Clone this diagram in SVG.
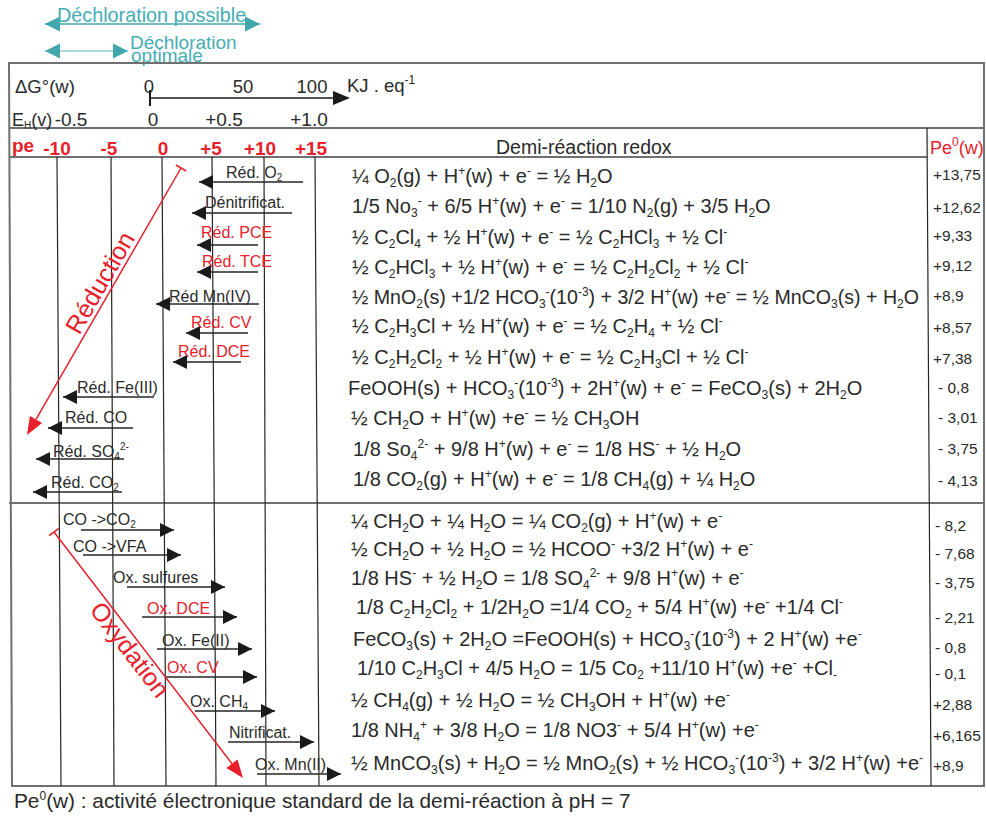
<svg xmlns="http://www.w3.org/2000/svg" width="986" height="816" viewBox="0 0 986 816">
<style>
.t{font-family:"Liberation Sans",Arial,sans-serif;fill:#2a2a2a}
.eq{font-size:20px}
.lb{font-size:16px}
.pv{font-size:15.5px}
.hd{font-size:18.5px}
.red{fill:#e8202a}
.s{font-size:12px}
.ls{font-size:10px}
.teal{fill:#45adb4}
.grid{stroke:#262626;stroke-width:1.2;fill:none}
.bord{stroke:#707070;stroke-width:2;fill:none}
.arr{stroke:#262626;stroke-width:1.3;fill:none;marker-end:url(#ah)}
.rl{stroke:#e8202a;stroke-width:1.5;fill:none}
</style>
<defs>
<marker id="ah" markerUnits="userSpaceOnUse" markerWidth="14" markerHeight="14" refX="14" refY="7" orient="auto"><path d="M0,0 L14,7 L0,14 z" fill="#1a1a1a"/></marker>
<marker id="tl" markerUnits="userSpaceOnUse" markerWidth="16" markerHeight="16" refX="15" refY="8" orient="auto-start-reverse"><path d="M0,0.5 L15,8 L0,15.5 z" fill="#42a7ad"/></marker>
</defs>
<rect width="986" height="816" fill="#ffffff"/>

<g id="dechloration">
<line x1="45" y1="24" x2="260" y2="24" stroke="#42a7ad" stroke-width="1.5" marker-start="url(#tl)" marker-end="url(#tl)"/>
<text class="t teal" x="57" y="22" font-size="19.8">Déchloration possible</text>
<line x1="45" y1="51" x2="128" y2="51" stroke="#8ccfd3" stroke-width="1.5" marker-start="url(#tl)" marker-end="url(#tl)"/>
<text class="t teal" x="130" y="49" font-size="19">Déchloration</text>
<text class="t teal" x="131" y="62" font-size="19">optimale</text>
</g>

<g id="frame">
<line class="bord" x1="9" y1="63" x2="985" y2="63"/>
<line class="bord" x1="9" y1="128" x2="985" y2="128"/>
<line class="bord" x1="9" y1="157" x2="927" y2="157"/>
<line class="bord" x1="9" y1="503" x2="985" y2="503"/>
<line class="bord" x1="11" y1="786" x2="985" y2="786"/>
<line class="bord" x1="9" y1="62" x2="12" y2="787"/>
<line class="bord" x1="984" y1="62" x2="984" y2="787"/>
<line class="grid" x1="927" y1="128" x2="931" y2="786" stroke-width="1.6"/>
</g>

<g id="pe-grid">
<line class="grid" x1="57" y1="157" x2="61" y2="786"/>
<line class="grid" x1="111" y1="157" x2="114" y2="786"/>
<line class="grid" x1="162" y1="157" x2="166" y2="786"/>
<line class="grid" x1="212" y1="157" x2="216" y2="786"/>
<line class="grid" x1="264" y1="157" x2="266" y2="786"/>
<line class="grid" x1="315" y1="157" x2="319" y2="786"/>
</g>

<g id="scales">
<text class="t hd" x="15" y="93">ΔG°(w)</text>
<text class="t hd" x="149" y="93" text-anchor="middle">0</text>
<text class="t hd" x="243" y="93" text-anchor="middle">50</text>
<text class="t hd" x="312" y="93" text-anchor="middle">100</text>
<text class="t hd" x="347" y="92">KJ . eq<tspan class="s" dy="-8">-1</tspan></text>
<line x1="150" y1="90" x2="150" y2="106" stroke="#1a1a1a" stroke-width="2"/>
<line x1="150" y1="98" x2="336" y2="98" stroke="#1a1a1a" stroke-width="1.3"/>
<path d="M333,91 L350,98 L333,105 z" fill="#1a1a1a"/>
<text class="t" x="12" y="126" font-size="18">E<tspan class="ls" dy="3">H</tspan><tspan dy="-3">(v)</tspan></text>
<text class="t" x="71" y="126" font-size="19" text-anchor="middle">-0.5</text>
<text class="t" x="153" y="126" font-size="19" text-anchor="middle">0</text>
<text class="t" x="224" y="126" font-size="19" text-anchor="middle">+0.5</text>
<text class="t" x="309" y="126" font-size="19" text-anchor="middle">+1.0</text>
<g class="t red" font-size="19" font-weight="bold">
<text x="12" y="152">pe</text>
<text x="57" y="155" text-anchor="middle">-10</text>
<text x="109" y="155" text-anchor="middle">-5</text>
<text x="163" y="155" text-anchor="middle">0</text>
<text x="211" y="155" text-anchor="middle">+5</text>
<text x="260" y="155" text-anchor="middle">+10</text>
<text x="311" y="155" text-anchor="middle">+15</text>
</g>
<text class="t" x="496" y="154" font-size="19.5">Demi-réaction redox</text>
<text class="t red" x="930" y="154" font-size="18">Pe<tspan class="s" dy="-8">0</tspan><tspan dy="8">(w)</tspan></text>
</g>

<g id="reduction-equations" class="t eq">
<text x="352" y="183">¼ O<tspan class="s" dy="4">2</tspan><tspan dy="-4">(g) + H</tspan><tspan class="s" dy="-8">+</tspan><tspan dy="8">(w)  + e</tspan><tspan class="s" dy="-8">-</tspan><tspan dy="8"> = ½ H</tspan><tspan class="s" dy="4">2</tspan><tspan dy="-4">O</tspan></text>
<text x="352" y="213">1/5 No<tspan class="s" dy="4">3</tspan><tspan class="s" dy="-12">-</tspan><tspan dy="8"> + 6/5 H</tspan><tspan class="s" dy="-8">+</tspan><tspan dy="8">(w) + e</tspan><tspan class="s" dy="-8">-</tspan><tspan dy="8"> = 1/10 N</tspan><tspan class="s" dy="4">2</tspan><tspan dy="-4">(g) + 3/5 H</tspan><tspan class="s" dy="4">2</tspan><tspan dy="-4">O</tspan></text>
<text x="352" y="244">½ C<tspan class="s" dy="4">2</tspan><tspan dy="-4">Cl</tspan><tspan class="s" dy="4">4</tspan><tspan dy="-4"> + ½ H</tspan><tspan class="s" dy="-8">+</tspan><tspan dy="8">(w) + e</tspan><tspan class="s" dy="-8">-</tspan><tspan dy="8"> = ½ C</tspan><tspan class="s" dy="4">2</tspan><tspan dy="-4">HCl</tspan><tspan class="s" dy="4">3</tspan><tspan dy="-4"> + ½ Cl</tspan><tspan class="s" dy="-8">-</tspan></text>
<text x="352" y="274">½ C<tspan class="s" dy="4">2</tspan><tspan dy="-4">HCl</tspan><tspan class="s" dy="4">3</tspan><tspan dy="-4"> + ½ H</tspan><tspan class="s" dy="-8">+</tspan><tspan dy="8">(w) + e</tspan><tspan class="s" dy="-8">-</tspan><tspan dy="8"> = ½ C</tspan><tspan class="s" dy="4">2</tspan><tspan dy="-4">H</tspan><tspan class="s" dy="4">2</tspan><tspan dy="-4">Cl</tspan><tspan class="s" dy="4">2</tspan><tspan dy="-4"> + ½ Cl</tspan><tspan class="s" dy="-8">-</tspan></text>
<text x="352" y="304" font-size="19.6">½ MnO<tspan class="s" dy="4">2</tspan><tspan dy="-4">(s) +1/2 HCO</tspan><tspan class="s" dy="4">3</tspan><tspan class="s" dy="-12">-</tspan><tspan dy="8">(10</tspan><tspan class="s" dy="-8">-3</tspan><tspan dy="8">) + 3/2 H</tspan><tspan class="s" dy="-8">+</tspan><tspan dy="8">(w) +e</tspan><tspan class="s" dy="-8">-</tspan><tspan dy="8"> = ½ MnCO</tspan><tspan class="s" dy="4">3</tspan><tspan dy="-4">(s) + H</tspan><tspan class="s" dy="4">2</tspan><tspan dy="-4">O</tspan></text>
<text x="352" y="333">½ C<tspan class="s" dy="4">2</tspan><tspan dy="-4">H</tspan><tspan class="s" dy="4">3</tspan><tspan dy="-4">Cl + ½ H</tspan><tspan class="s" dy="-8">+</tspan><tspan dy="8">(w) + e</tspan><tspan class="s" dy="-8">-</tspan><tspan dy="8"> = ½ C</tspan><tspan class="s" dy="4">2</tspan><tspan dy="-4">H</tspan><tspan class="s" dy="4">4</tspan><tspan dy="-4"> + ½ Cl</tspan><tspan class="s" dy="-8">-</tspan></text>
<text x="352" y="364">½ C<tspan class="s" dy="4">2</tspan><tspan dy="-4">H</tspan><tspan class="s" dy="4">2</tspan><tspan dy="-4">Cl</tspan><tspan class="s" dy="4">2</tspan><tspan dy="-4"> + ½ H</tspan><tspan class="s" dy="-8">+</tspan><tspan dy="8">(w) + e</tspan><tspan class="s" dy="-8">-</tspan><tspan dy="8"> = ½ C</tspan><tspan class="s" dy="4">2</tspan><tspan dy="-4">H</tspan><tspan class="s" dy="4">3</tspan><tspan dy="-4">Cl + ½ Cl</tspan><tspan class="s" dy="-8">-</tspan></text>
<text x="348" y="395">FeOOH(s) + HCO<tspan class="s" dy="4">3</tspan><tspan class="s" dy="-12">-</tspan><tspan dy="8">(10</tspan><tspan class="s" dy="-8">-3</tspan><tspan dy="8">) + 2H</tspan><tspan class="s" dy="-8">+</tspan><tspan dy="8">(w) + e</tspan><tspan class="s" dy="-8">-</tspan><tspan dy="8"> = FeCO</tspan><tspan class="s" dy="4">3</tspan><tspan dy="-4">(s) + 2H</tspan><tspan class="s" dy="4">2</tspan><tspan dy="-4">O</tspan></text>
<text x="351" y="425">½ CH<tspan class="s" dy="4">2</tspan><tspan dy="-4">O + H</tspan><tspan class="s" dy="-8">+</tspan><tspan dy="8">(w) +e</tspan><tspan class="s" dy="-8">-</tspan><tspan dy="8"> = ½ CH</tspan><tspan class="s" dy="4">3</tspan><tspan dy="-4">OH</tspan></text>
<text x="353" y="456">1/8 So<tspan class="s" dy="4">4</tspan><tspan class="s" dy="-12">2-</tspan><tspan dy="8"> + 9/8 H</tspan><tspan class="s" dy="-8">+</tspan><tspan dy="8">(w) + e</tspan><tspan class="s" dy="-8">-</tspan><tspan dy="8"> = 1/8 HS</tspan><tspan class="s" dy="-8">-</tspan><tspan dy="8"> + ½ H</tspan><tspan class="s" dy="4">2</tspan><tspan dy="-4">O</tspan></text>
<text x="353" y="486">1/8 CO<tspan class="s" dy="4">2</tspan><tspan dy="-4">(g) + H</tspan><tspan class="s" dy="-8">+</tspan><tspan dy="8">(w) + e</tspan><tspan class="s" dy="-8">-</tspan><tspan dy="8"> = 1/8 CH</tspan><tspan class="s" dy="4">4</tspan><tspan dy="-4">(g) + ¼ H</tspan><tspan class="s" dy="4">2</tspan><tspan dy="-4">O</tspan></text>
</g>

<g id="oxidation-equations" class="t eq">
<text x="351" y="528">¼ CH<tspan class="s" dy="4">2</tspan><tspan dy="-4">O + ¼ H</tspan><tspan class="s" dy="4">2</tspan><tspan dy="-4">O = ¼ CO</tspan><tspan class="s" dy="4">2</tspan><tspan dy="-4">(g) + H</tspan><tspan class="s" dy="-8">+</tspan><tspan dy="8">(w) + e</tspan><tspan class="s" dy="-8">-</tspan></text>
<text x="351" y="556">½ CH<tspan class="s" dy="4">2</tspan><tspan dy="-4">O + ½ H</tspan><tspan class="s" dy="4">2</tspan><tspan dy="-4">O = ½ HCOO</tspan><tspan class="s" dy="-8">-</tspan><tspan dy="8"> +3/2 H</tspan><tspan class="s" dy="-8">+</tspan><tspan dy="8">(w) + e</tspan><tspan class="s" dy="-8">-</tspan></text>
<text x="351" y="585">1/8 HS<tspan class="s" dy="-8">-</tspan><tspan dy="8"> + ½ H</tspan><tspan class="s" dy="4">2</tspan><tspan dy="-4">O = 1/8 SO</tspan><tspan class="s" dy="4">4</tspan><tspan class="s" dy="-12">2-</tspan><tspan dy="8"> + 9/8 H</tspan><tspan class="s" dy="-8">+</tspan><tspan dy="8">(w) + e</tspan><tspan class="s" dy="-8">-</tspan></text>
<text x="356" y="614">1/8 C<tspan class="s" dy="4">2</tspan><tspan dy="-4">H</tspan><tspan class="s" dy="4">2</tspan><tspan dy="-4">Cl</tspan><tspan class="s" dy="4">2</tspan><tspan dy="-4"> + 1/2H</tspan><tspan class="s" dy="4">2</tspan><tspan dy="-4">O =1/4 CO</tspan><tspan class="s" dy="4">2</tspan><tspan dy="-4"> + 5/4 H</tspan><tspan class="s" dy="-8">+</tspan><tspan dy="8">(w) +e</tspan><tspan class="s" dy="-8">-</tspan><tspan dy="8"> +1/4 Cl</tspan><tspan class="s" dy="-8">-</tspan></text>
<text x="353" y="646">FeCO<tspan class="s" dy="4">3</tspan><tspan dy="-4">(s) + 2H</tspan><tspan class="s" dy="4">2</tspan><tspan dy="-4">O =FeOOH(s) + HCO</tspan><tspan class="s" dy="4">3</tspan><tspan class="s" dy="-12">-</tspan><tspan dy="8">(10</tspan><tspan class="s" dy="-8">-3</tspan><tspan dy="8">) + 2 H</tspan><tspan class="s" dy="-8">+</tspan><tspan dy="8">(w) +e</tspan><tspan class="s" dy="-8">-</tspan></text>
<text x="357" y="675">1/10 C<tspan class="s" dy="4">2</tspan><tspan dy="-4">H</tspan><tspan class="s" dy="4">3</tspan><tspan dy="-4">Cl + 4/5 H</tspan><tspan class="s" dy="4">2</tspan><tspan dy="-4">O = 1/5 Co</tspan><tspan class="s" dy="4">2</tspan><tspan dy="-4"> +11/10  H</tspan><tspan class="s" dy="-8">+</tspan><tspan dy="8">(w) +e</tspan><tspan class="s" dy="-8">-</tspan><tspan dy="8"> +Cl</tspan><tspan class="s" dy="4">-</tspan></text>
<text x="351" y="707">½ CH<tspan class="s" dy="4">4</tspan><tspan dy="-4">(g) + ½ H</tspan><tspan class="s" dy="4">2</tspan><tspan dy="-4">O = ½ CH</tspan><tspan class="s" dy="4">3</tspan><tspan dy="-4">OH + H</tspan><tspan class="s" dy="-8">+</tspan><tspan dy="8">(w) +e</tspan><tspan class="s" dy="-8">-</tspan></text>
<text x="351" y="737">1/8 NH<tspan class="s" dy="4">4</tspan><tspan class="s" dy="-12">+</tspan><tspan dy="8"> + 3/8 H</tspan><tspan class="s" dy="4">2</tspan><tspan dy="-4">O = 1/8 NO3</tspan><tspan class="s" dy="-8">-</tspan><tspan dy="8"> + 5/4 H</tspan><tspan class="s" dy="-8">+</tspan><tspan dy="8">(w) +e</tspan><tspan class="s" dy="-8">-</tspan></text>
<text x="351" y="770">½ MnCO<tspan class="s" dy="4">3</tspan><tspan dy="-4">(s) + H</tspan><tspan class="s" dy="4">2</tspan><tspan dy="-4">O = ½ MnO</tspan><tspan class="s" dy="4">2</tspan><tspan dy="-4">(s) + ½ HCO</tspan><tspan class="s" dy="4">3</tspan><tspan class="s" dy="-12">-</tspan><tspan dy="8">(10</tspan><tspan class="s" dy="-8">-3</tspan><tspan dy="8">) + 3/2 H</tspan><tspan class="s" dy="-8">+</tspan><tspan dy="8">(w) +e</tspan><tspan class="s" dy="-8">-</tspan></text>
</g>

<g id="pe-values" class="t pv">
<text x="933" y="180">+13,75</text>
<text x="933" y="213">+12,62</text>
<text x="933" y="241">+9,33</text>
<text x="933" y="271">+9,12</text>
<text x="933" y="301">+8,9</text>
<text x="933" y="333">+8,57</text>
<text x="933" y="364">+7,38</text>
<text x="938" y="393">- 0,8</text>
<text x="938" y="423">- 3,01</text>
<text x="938" y="454">- 3,75</text>
<text x="938" y="486">- 4,13</text>
<text x="935" y="531">- 8,2</text>
<text x="935" y="559">- 7,68</text>
<text x="935" y="588">- 3,75</text>
<text x="935" y="623">- 2,21</text>
<text x="935" y="653">- 0,8</text>
<text x="935" y="679">- 0,1</text>
<text x="933" y="710">+2,88</text>
<text x="933" y="741">+6,165</text>
<text x="933" y="771">+8,9</text>
</g>

<g id="connectors">
<line class="arr" x1="303" y1="182" x2="199" y2="182"/>
<line class="arr" x1="292" y1="213" x2="192" y2="213"/>
<line class="arr" x1="258" y1="245" x2="197" y2="245"/>
<line class="arr" x1="258" y1="272" x2="197" y2="272"/>
<line class="arr" x1="259" y1="304" x2="156" y2="304"/>
<line class="arr" x1="248" y1="333" x2="186" y2="333"/>
<line class="arr" x1="241" y1="362" x2="173" y2="362"/>
<line class="arr" x1="154" y1="397" x2="63" y2="397"/>
<line class="arr" x1="133" y1="428" x2="48" y2="428"/>
<line class="arr" x1="124" y1="459" x2="36" y2="459"/>
<line class="arr" x1="122" y1="492" x2="33" y2="492"/>
<line class="arr" x1="81" y1="530" x2="174" y2="530"/>
<line class="arr" x1="83" y1="555" x2="181" y2="555"/>
<line class="arr" x1="127" y1="587" x2="225" y2="587"/>
<line class="arr" x1="142" y1="617" x2="237" y2="617"/>
<line class="arr" x1="157" y1="649" x2="252" y2="649"/>
<line class="arr" x1="166" y1="677" x2="257" y2="677"/>
<line class="arr" x1="195" y1="711" x2="275" y2="711"/>
<line class="arr" x1="228" y1="742" x2="314" y2="742"/>
<line class="arr" x1="257" y1="774" x2="341" y2="774"/>
<line class="rl" x1="181" y1="168" x2="36" y2="419.4"/>
<line class="rl" x1="175.8" y1="165" x2="186.2" y2="171"/>
<path d="M27,435 L42.1,422.9 L29.9,415.9 z" fill="#e8202a"/>
<line class="rl" x1="54" y1="532" x2="232" y2="763.7"/>
<line class="rl" x1="49.2" y1="535.7" x2="58.8" y2="528.3"/>
<path d="M243,778 L237.5,759.4 L226.4,768 z" fill="#e8202a"/>
</g>

<g id="reduction-labels" class="t lb">
<text x="226" y="178">Réd. O<tspan class="ls" dy="3">2</tspan></text>
<text x="205" y="208">Dénitrificat.</text>
<text class="red" x="201" y="238">Réd. PCE</text>
<text class="red" x="202" y="267">Réd. TCE</text>
<text x="169" y="302">Réd Mn(IV)</text>
<text class="red" x="191" y="328">Réd. CV</text>
<text class="red" x="178" y="357">Réd. DCE</text>
<text x="77" y="393">Réd. Fe(III)</text>
<text x="65" y="423">Réd. CO</text>
<text x="53" y="457">Réd. SO<tspan class="ls" dy="3">4</tspan><tspan class="ls" dy="-10">2-</tspan></text>
<text x="51" y="488">Réd. CO<tspan class="ls" dy="3">2</tspan></text>
</g>

<g id="oxidation-labels" class="t lb">
<text x="63" y="525">CO -&gt;CO<tspan class="ls" dy="3">2</tspan></text>
<text x="73" y="552">CO -&gt;VFA</text>
<text x="113" y="583">Ox. sulfures</text>
<text class="red" x="147" y="614">Ox. DCE</text>
<text x="162" y="646">Ox. Fe(II)</text>
<text class="red" x="167" y="673">Ox. CV</text>
<text x="190" y="707">Ox. CH<tspan class="ls" dy="3">4</tspan></text>
<text x="229" y="738">Nitrificat.</text>
<text x="255" y="770">Ox. Mn(II)</text>
</g>

<g id="direction-labels" class="t red" font-size="25">
<text x="107.5" y="287" text-anchor="middle" transform="rotate(-60 107.5 287)">Réduction</text>
<text x="123" y="655" text-anchor="middle" transform="rotate(52.5 123 655)">Oxydation</text>
</g>

<g id="footnote">
<text class="t" x="14" y="808" font-size="20.8">Pe<tspan class="s" dy="-8">0</tspan><tspan dy="8">(w) : activité électronique standard de la demi-réaction à pH = 7</tspan></text>
</g>
</svg>
